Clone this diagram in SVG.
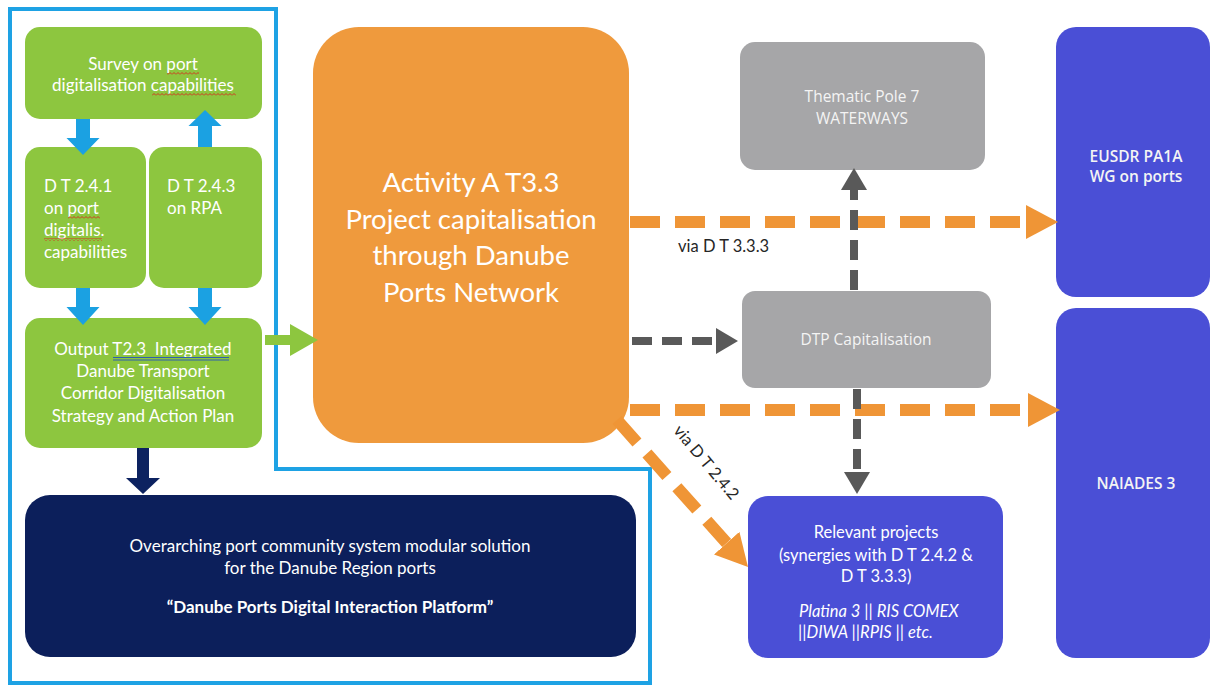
<svg xmlns="http://www.w3.org/2000/svg" width="1211" height="686" viewBox="0 0 1211 686">
<style>
.w{fill:#ffffff;font-family:Lato,"Liberation Sans",sans-serif}
.g16{font-size:17px}
.os{fill:#f4f4f4;font-family:"Open Sans","Liberation Sans",sans-serif;font-size:15.5px}
.lbl{fill:#262626;font-family:Lato,"Liberation Sans",sans-serif;font-size:16.5px}
.green{fill:#8dc63f}
.gray{fill:#a6a6a8}
.blue{fill:#4a4fd6}
.ob{fill:none;stroke:#ef9536;stroke-width:12;stroke-dasharray:30 15}
.gb{fill:none;stroke:#595959;stroke-width:8;stroke-dasharray:20 10}
.lb{fill:#1ba1e2}
</style>
<defs>
<marker id="hOr" markerUnits="userSpaceOnUse" markerWidth="32" markerHeight="34" refX="0" refY="17" orient="auto"><path d="M0,0 L32,17 L0,34z" fill="#ef9536"/></marker>
<marker id="hGr" markerUnits="userSpaceOnUse" markerWidth="22" markerHeight="26" refX="0" refY="13" orient="auto"><path d="M0,0 L22,13 L0,26z" fill="#595959"/></marker>
<pattern id="wave" patternUnits="userSpaceOnUse" width="4" height="3"><path d="M0,2.5 L2,0.5 L4,2.5" fill="none" stroke="#d9261c" stroke-width="0.9"/></pattern>
</defs>
<rect width="1211" height="686" fill="#ffffff"/>

<g id="frame"><path d="M10,9 H276 V469 H650 V683 H10 Z" fill="none" stroke="#1ea2e4" stroke-width="4"/></g>

<g id="survey"><rect class="green" x="25" y="27" width="237" height="92" rx="15"/>
<text class="w" font-size="17" text-anchor="middle"><tspan x="143" y="70">Survey on port</tspan><tspan x="143" y="91">digitalisation capabilities</tspan></text>
<rect x="167" y="72" width="32" height="3" fill="url(#wave)"/><rect x="152" y="93" width="84" height="3" fill="url(#wave)"/></g>

<g id="dt241"><rect class="green" x="25" y="147" width="121" height="141" rx="15"/>
<text class="w g16"><tspan x="44" y="192">D T 2.4.1</tspan><tspan x="44" y="214">on port</tspan><tspan x="44" y="236">digitalis.</tspan><tspan x="44" y="258">capabilities</tspan></text>
<rect x="68" y="216" width="32" height="3" fill="url(#wave)"/><rect x="44" y="238" width="58" height="3" fill="url(#wave)"/></g>

<g id="dt243"><rect class="green" x="149" y="147" width="113" height="141" rx="15"/>
<text class="w g16"><tspan x="167" y="192">D T 2.4.3</tspan><tspan x="167" y="214">on RPA</tspan></text></g>

<g id="output"><rect class="green" x="25" y="318" width="237" height="130" rx="15"/>
<text class="w g16" text-anchor="middle"><tspan x="143" y="355">Output T2.3&#160; Integrated</tspan><tspan x="143" y="377">Danube Transport</tspan><tspan x="143" y="399">Corridor Digitalisation</tspan><tspan x="143" y="422">Strategy and Action Plan</tspan></text>
<path d="M113,357.5 H229 M113,360 H229" stroke="#2f5fb0" stroke-width="1"/></g>

<g id="platform"><rect x="25" y="495" width="611" height="162" rx="25" fill="#0c1f5b"/>
<text class="w" font-size="17" text-anchor="middle"><tspan x="330" y="552">Overarching port community system modular solution</tspan><tspan x="330" y="574">for the Danube Region ports</tspan><tspan x="330" y="613" font-weight="bold">“Danube Ports Digital Interaction Platform”</tspan></text></g>

<g id="activity"><rect x="313" y="27" width="316" height="416" rx="46" fill="#ef9a3d"/>
<text class="w" font-size="27.5" text-anchor="middle"><tspan x="471" y="192">Activity A T3.3</tspan><tspan x="471" y="229">Project capitalisation</tspan><tspan x="471" y="265">through Danube</tspan><tspan x="471" y="302">Ports Network</tspan></text></g>

<g id="pole7"><rect class="gray" x="740" y="42" width="245" height="128" rx="15"/>
<text class="os" text-anchor="middle"><tspan x="862" y="102">Thematic Pole 7</tspan><tspan x="862" y="124">WATERWAYS</tspan></text></g>

<g id="dtp"><rect class="gray" x="742" y="291" width="249" height="97" rx="13"/>
<text class="os" text-anchor="middle" x="866" y="345">DTP Capitalisation</text></g>

<g id="eusdr"><rect class="blue" x="1056" y="27" width="154" height="270" rx="20"/>
<text class="os" font-weight="600" text-anchor="middle"><tspan x="1136" y="162">EUSDR PA1A</tspan><tspan x="1136" y="182">WG on ports</tspan></text></g>

<g id="naiades"><rect class="blue" x="1056" y="308" width="154" height="350" rx="20"/>
<text class="os" font-weight="600" text-anchor="middle" x="1136" y="489">NAIADES 3</text></g>

<g id="relevant"><rect class="blue" x="748" y="496" width="255" height="162" rx="20"/>
<text class="w" font-size="16.5" text-anchor="middle"><tspan x="876" y="538">Relevant projects</tspan><tspan x="876" y="561">(synergies with D T 2.4.2 &amp;</tspan><tspan x="876" y="582">D T 3.3.3)</tspan></text>
<text class="w" font-size="16.5" font-style="italic"><tspan x="799" y="617">Platina 3 || RIS COMEX</tspan><tspan x="798" y="638">||DIWA ||RPIS || etc.</tspan></text></g>

<g id="connectors">
<path class="lb" d="M76,119 H90 V138 H99.5 L83,155 L66.5,138 H76 Z"/>
<path class="lb" d="M198,147 H212 V126 H221.5 L205,110 L188.5,126 H198 Z"/>
<path class="lb" d="M76,288 H90 V307 H99.5 L83,325 L66.5,307 H76 Z"/>
<path class="lb" d="M198,288 H212 V307 H221.5 L205,325 L188.5,307 H198 Z"/>
<path d="M137,448 H149 V478 H160 L143,494 L126,478 H137 Z" fill="#0c2260"/>
<path d="M265,335 H290 V324 L318,340 L290,356 V345 H265 Z" fill="#8dc63f"/>
<line class="ob" x1="630" y1="222" x2="1026" y2="222" marker-end="url(#hOr)"/>
<line class="ob" x1="630" y1="410" x2="1028" y2="410" marker-end="url(#hOr)"/>
<line class="ob" x1="617" y1="420" x2="726.7" y2="543.1" marker-end="url(#hOr)"/>
<line class="gb" x1="632" y1="341" x2="716" y2="341" marker-end="url(#hGr)"/>
<line class="gb" x1="854" y1="290" x2="854" y2="190" marker-end="url(#hGr)"/>
<line class="gb" x1="857" y1="389" x2="857" y2="472" marker-end="url(#hGr)"/>
<text class="lbl" x="678" y="252">via D T 3.3.3</text>
<text class="lbl" transform="translate(702,466) rotate(50)" text-anchor="middle" x="0" y="0">via D T 2.4.2</text>
</g>
</svg>
